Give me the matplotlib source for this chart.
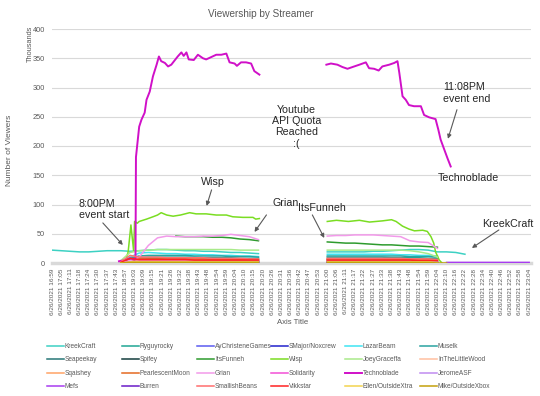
import numpy as np
import matplotlib
matplotlib.use('Agg')
import matplotlib.pyplot as plt

plt.rcParams['font.family'] = ['Liberation Sans', 'DejaVu Sans']

nan = np.nan

times = ['16:59', '17:05', '17:11', '17:18', '17:24', '17:30', '17:37', '17:43',
         '18:57', '19:03', '19:09', '19:15', '19:21', '19:26', '19:32', '19:38',
         '19:43', '19:48', '19:54', '19:59', '20:04', '20:10', '20:15', '20:20',
         '20:26', '20:31', '20:36', '20:42', '20:47', '20:53', '21:00', '21:06',
         '21:11', '21:17', '21:22', '21:27', '21:33', '21:38', '21:43', '21:48',
         '21:54', '21:59', '22:04', '22:10', '22:16', '22:22', '22:28', '22:34',
         '22:40', '22:46', '22:52', '22:58', '23:04']
tick_labels = ['6/26/2021 ' + t for t in times]

# sample positions (in tick-label units)
pre = [0, 1, 2, 3, 4, 5, 6, 7]
g1 = [7.5, 8.5, 9.5, 10.5, 11.5, 12.5, 13.5, 14.5, 15.5, 16.5, 17.5, 18.5, 19.5, 20.5, 21.5, 22.5]
g2 = [30, 31, 32, 33, 34, 35, 36, 37, 38, 39, 40, 41, 42, 43, 44, 45]
tail = [43, 44, 45, 46, 47, 48, 49, 50, 51, 52]

# viewers, thousands
kreekcraft_pre = [22, 21, 20, 19, 19, 20, 21, 21]
kreekcraft_1 = [21, 20, 21, 22, 23, 23, 22, 21, 21, 20, 20, 19, 18, 18, 17, 16]
kreekcraft_2 = [19, 19, 19, 19, 19, 20, 20, 21, 22, 23, 23, 22, 19, 19, 18, 15]
ryguyrocky_1 = [1, 6, 9, 10, 10, 10, 10, 10, 10, 9, 9, 9, 9, 8, 8, 8]
ryguyrocky_2 = [10, 10, 10, 10, 10, 10, 10, 9, 9, 9, 9, 8, 8, nan, nan, nan]
aychristene_1 = [0, 1, 2, 2, 2, 2, 2, 2, 2, 2, 2, 2, 2, 2, 2, 2]
aychristene_2 = [2, 2, 2, 2, 2, 2, 2, 2, 2, 2, 2, 2, 1, nan, nan, nan]
smajor_1 = [0, 1, 1, 1, 1, 1, 1, 1, 1, 1, 1, 1, 1, 1, 1, 1]
smajor_2 = [1, 1, 1, 1, 1, 1, 1, 1, 1, 1, 1, 1, 1, nan, nan, nan]
lazarbeam_1 = [3, 10, 17, 18, 17, 16, 16, 15, 15, 14, 14, 13, 13, 12, 12, 11]
lazarbeam_2 = [15, 15, 15, 15, 15, 15, 15, 15, 14, 14, 13, 13, 12, nan, nan, nan]
muselk_1 = [1, 8, 12, 13, 13, 13, 13, 13, 12, 12, 12, 12, 11, 11, 11, 10]
muselk_2 = [12, 12, 12, 12, 12, 12, 12, 12, 12, 11, 11, 11, 10, nan, nan, nan]
seapeekay_1 = [1, 4, 6, 7, 7, 7, 7, 7, 6, 6, 6, 6, 6, 6, 6, 5]
seapeekay_2 = [6, 6, 6, 6, 6, 6, 6, 6, 6, 6, 5, 5, 5, nan, nan, nan]
spifey_1 = [0, 2, 3, 3, 3, 3, 3, 3, 3, 3, 3, 3, 3, 3, 3, 3]
spifey_2 = [3, 3, 3, 3, 3, 3, 3, 3, 3, 3, 3, 3, 2, nan, nan, nan]
itsfunneh_1 = [nan, nan, nan, nan, nan, nan, 46, 45, 45, 45, 44, 44, 43, 41, 40, 38]
itsfunneh_2 = [36, 35, 34, 34, 33, 32, 31, 31, 30, 29, 29, 28, 27, nan, nan, nan]
joeygraceffa_1 = [4, 18, 21, 22, 23, 23, 23, 23, 23, 23, 23, 23, 23, 22, 22, 22]
joeygraceffa_2 = [22, 22, 22, 22, 22, 22, 22, 22, 22, 21, 19, 16, 10, nan, nan, nan]
inthelittlewood_1 = [1, 4, 5, 5, 5, 5, 5, 5, 5, 5, 5, 5, 5, 5, 4, 4]
inthelittlewood_2 = [5, 5, 5, 5, 5, 5, 5, 5, 5, 5, 5, 4, 4, nan, nan, nan]
sqaishey_1 = [0, 3, 4, 4, 4, 4, 4, 4, 4, 4, 4, 4, 4, 4, 4, 4]
sqaishey_2 = [4, 4, 4, 4, 4, 4, 4, 4, 4, 4, 4, 4, 3, nan, nan, nan]
pearlescent_1 = [1, 5, 7, 7, 7, 7, 7, 7, 7, 7, 6, 6, 6, 6, 6, 6]
pearlescent_2 = [7, 7, 7, 7, 7, 7, 7, 7, 7, 6, 6, 6, 5, nan, nan, nan]
grian_1 = [2, 4, 10, 30, 43, 46, 45, 45, 45, 46, 46, 47, 49, 47, 45, 40]
grian_2 = [46, 47, 47, 48, 48, 48, 47, 46, 45, 38, 36, 35, 25, nan, nan, nan]
solidarity_1 = [0, 2, 3, 3, 3, 3, 3, 3, 3, 3, 3, 3, 3, 3, 3, 3]
solidarity_2 = [3, 3, 3, 3, 3, 3, 3, 3, 3, 3, 3, 3, 2, nan, nan, nan]
jeromeasf_1 = [0, 1, 2, 2, 2, 2, 2, 2, 2, 2, 2, 2, 2, 2, 2, 2]
jeromeasf_2 = [2, 2, 2, 2, 2, 2, 2, 2, 2, 2, 2, 2, 1, nan, nan, nan]
mefs_1 = [0, 1, 1, 1, 1, 1, 1, 1, 1, 1, 1, 1, 1, 1, 1, 1]
mefs_2 = [1, 1, 1, 1, 1, 1, 1, 1, 1, 1, 1, 1, 1, nan, nan, nan]
mefs_tail = [1, 1, 1, 1, 1, 1, 1, 1, 1, 1]
burren_1 = [0, 1, 1, 1, 1, 1, 1, 1, 1, 1, 1, 1, 1, 1, 1, 1]
burren_2 = [1, 1, 1, 1, 1, 1, 1, 1, 1, 1, 1, 1, 1, nan, nan, nan]
smallishbeans_1 = [2, 13, 10, 10, 10, 9, 9, 9, 9, 9, 8, 8, 8, 8, 7, 7]
smallishbeans_2 = [8, 8, 8, 8, 8, 8, 8, 8, 8, 7, 7, 7, 6, nan, nan, nan]
vikkstar_1 = [1, 8, 6, 6, 6, 6, 6, 6, 5, 5, 5, 5, 5, 5, 5, 5]
vikkstar_2 = [5, 5, 5, 5, 5, 5, 5, 5, 5, 5, 4, 4, 4, nan, nan, nan]
ellen_1 = [0, 2, 2, 2, 2, 2, 2, 2, 2, 2, 2, 2, 2, 2, 2, 2]
ellen_2 = [2, 2, 2, 2, 2, 2, 2, 2, 2, 2, 2, 2, 1, nan, nan, nan]
mike_1 = [0, 1, 1, 1, 1, 1, 1, 1, 1, 1, 1, 1, 1, 1, 1, 1]
mike_2 = [1, 1, 1, 1, 1, 1, 1, 1, 1, 1, 1, 1, 0, 0, nan, nan]

techno_x1 = [7.3, 8.0, 8.5, 9.0, 9.1, 9.15, 9.5, 9.75, 10.1, 10.3, 10.65, 11.0, 11.4, 11.65,
             11.9, 12.3, 12.65, 13.0, 13.7, 14.1, 14.35, 14.65, 14.9, 15.45, 15.9, 16.45,
             16.8, 17.35, 17.9, 18.45, 19.0, 19.35, 19.9, 20.15, 20.6, 21.15, 21.7, 22.05, 22.6]
techno_1 = [3, 5, 8, 6, 8, 181, 233, 245, 257, 279, 293, 319, 339, 353,
            345, 342, 336, 339, 353, 360, 354, 360, 348, 347, 356, 350,
            348, 352, 356, 356, 358, 343, 341, 337, 343, 343, 341, 328, 322]
techno_x2 = [29.9, 30.4, 31.1, 31.65, 32.2, 32.75, 33.5, 34.2, 34.55, 35.1, 35.6, 36.0, 36.75,
             37.3, 37.65, 37.85, 38.2, 38.55, 38.9, 39.45, 40.2, 40.55, 41.1, 41.8, 42.1,
             42.35, 42.7, 43.1, 43.45]
techno_2 = [339, 341, 339, 335, 332, 335, 339, 343, 333, 332, 329, 336, 339,
            342, 345, 325, 285, 279, 270, 268, 268, 253, 249, 246, 228,
            211, 196, 179, 165]

wisp_x1 = [7.5, 8.0, 8.3, 8.6, 8.9, 9.0, 9.3, 9.5, 10.3, 11.0, 11.5, 11.9, 12.5, 13.2,
           14.0, 15.0, 15.7, 16.8, 17.9, 19.0, 19.7, 20.8, 21.9, 22.2, 22.6]
wisp_1 = [4, 3, 19, 65, 20, 71, 68, 71, 75, 79, 82, 86, 82, 80,
          82, 86, 84, 84, 82, 82, 79, 78, 78, 75, 76]
wisp_x2 = [30.0, 31.0, 32.3, 33.5, 34.6, 36.0, 37.0, 37.5, 38.2, 38.9, 39.5, 40.4,
           40.9, 41.3, 41.6, 41.8, 42.2, 42.5]
wisp_2 = [71, 73, 71, 73, 70, 72, 74, 71, 63, 58, 55, 56,
          54, 45, 34, 19, 5, 0]


def join(*parts):
    xs, ys = [], []
    for i in range(0, len(parts), 2):
        if xs:
            xs.append(nan)
            ys.append(nan)
        xs += list(parts[i])
        ys += list(parts[i + 1])
    return xs, ys


series = [
    ('KreekCraft', '#3DD1C3', join(pre + g1, kreekcraft_pre + kreekcraft_1, g2, kreekcraft_2)),
    ('Ryguyrocky', '#1FA593', join(g1, ryguyrocky_1, g2, ryguyrocky_2)),
    ('AyChristeneGames', '#5B5BF0', join(g1, aychristene_1, g2, aychristene_2)),
    ('SMajor/Noxcrew', '#2222CC', join(g1, smajor_1, g2, smajor_2)),
    ('LazarBeam', '#3FE4F2', join(g1, lazarbeam_1, g2, lazarbeam_2)),
    ('Muselk', '#2AA3A0', join(g1, muselk_1, g2, muselk_2)),
    ('Seapeekay', '#277676', join(g1, seapeekay_1, g2, seapeekay_2)),
    ('Spifey', '#133D3D', join(g1, spifey_1, g2, spifey_2)),
    ('ItsFunneh', '#2E9B2E', join(g1, itsfunneh_1, g2, itsfunneh_2)),
    ('Wisp', '#7ADD22', join(wisp_x1, wisp_1, wisp_x2, wisp_2)),
    ('JoeyGraceffa', '#A9EA8A', join(g1, joeygraceffa_1, g2, joeygraceffa_2)),
    ('InTheLittleWood', '#FFC0A0', join(g1, inthelittlewood_1, g2, inthelittlewood_2)),
    ('Sqaishey', '#FFA366', join(g1, sqaishey_1, g2, sqaishey_2)),
    ('PearlescentMoon', '#E46A22', join(g1, pearlescent_1, g2, pearlescent_2)),
    ('Grian', '#F29AEA', join(g1, grian_1, g2, grian_2)),
    ('Solidarity', '#F24FD6', join(g1, solidarity_1, g2, solidarity_2)),
    ('Technoblade', '#D010C8', join(techno_x1, techno_1, techno_x2, techno_2)),
    ('JeromeASF', '#C08CF0', join(g1, jeromeasf_1, g2, jeromeasf_2)),
    ('Mefs', '#A83CF0', join(g1, mefs_1, g2, mefs_2, tail, mefs_tail)),
    ('Burren', '#6A1BC7', join(g1, burren_1, g2, burren_2)),
    ('SmallishBeans', '#FF6E6E', join(g1, smallishbeans_1, g2, smallishbeans_2)),
    ('Vikkstar', '#FF2222', join(g1, vikkstar_1, g2, vikkstar_2)),
    ('Ellen/OutsideXtra', '#F2D34E', join(g1, ellen_1, g2, ellen_2)),
    ('Mike/OutsideXbox', '#C3A10C', join(g1, mike_1, g2, mike_2)),
]

W, H = 540, 396
fig = plt.figure(figsize=(W / 100, H / 100), dpi=100)
ax = fig.add_axes([52 / W, 1 - 263 / H, (531 - 52) / W, (263 - 29) / H])

handles = []
for name, color, (xs, ys) in series:
    lw = 1.4 if name == 'Technoblade' else 1.1
    h, = ax.plot(xs, ys, color=color, lw=lw, label=name, zorder=3)
    handles.append(h)

ax.set_xlim(0, 52.2)
ax.set_ylim(0, 400)
ax.set_yticks(range(0, 401, 50))
ax.set_xticks(range(len(tick_labels)))
ax.set_xticklabels(tick_labels, rotation=90, fontsize=4.6, color='#595959')
ax.tick_params(axis='y', labelsize=5.3, labelcolor='#595959', length=0, pad=5)
ax.tick_params(axis='x', length=0, pad=4)
ax.grid(axis='y', color='#D9D9D9', lw=0.8)
ax.set_axisbelow(True)
for s in ['top', 'right', 'left']:
    ax.spines[s].set_visible(False)
ax.spines['bottom'].set_color('#D9D9D9')
ax.spines['bottom'].set_linewidth(2.5)
ax.spines['bottom'].set_zorder(2)

# annotations
txt = dict(fontsize=7.7, color='#262626', clip_on=False)
ax.text(2.93, 91.6, '8:00PM\nevent start', ha='left', va='center', linespacing=1.2, **txt)
ax.text(17.5, 138.7, 'Wisp', ha='center', va='center', **txt)
ax.text(25.5, 101.9, 'Grian', ha='center', va='center', **txt)
ax.text(29.46, 94.2, 'ItsFunneh', ha='center', va='center', **txt)
ax.text(49.67, 66.8, 'KreekCraft', ha='center', va='center', **txt)
ax.text(26.63, 232.9, 'Youtube\nAPI Quota\nReached\n:(', ha='center', va='center',
        multialignment='center', linespacing=1.15, **txt)
ax.text(42.6, 290.2, '11:08PM\nevent end', ha='left', va='center', linespacing=1.2, **txt)
ax.text(45.33, 145.5, 'Technoblade', ha='center', va='center', **txt)

arrows = [((5.54, 68.5), (7.72, 30.8)),
          ((17.39, 125), (16.85, 97.6)),
          ((23.37, 82.2), (22.07, 53.1)),
          ((28.37, 82.2), (29.67, 42.8)),
          ((48.7, 56.5), (45.76, 25.7)),
          ((44.13, 262), (43.15, 212.3))]
for start, end in arrows:
    ax.annotate('', xy=end, xytext=start,
                arrowprops=dict(arrowstyle='-|>', color='#595959', lw=0.8,
                                mutation_scale=6, shrinkA=0, shrinkB=0))

fig.text(260.5 / W, 1 - 14 / H, 'Viewership by Streamer', ha='center', va='center',
         fontsize=7.2, color='#595959')
fig.text(10 / W, 1 - 150 / H, 'Number of Viewers', rotation=90, ha='center', va='center',
         fontsize=6.0, color='#595959')
fig.text(30 / W, 1 - 44 / H, 'Thousands', rotation=90, ha='center', va='center',
         fontsize=5.3, color='#595959')
fig.text(292.5 / W, 1 - 323 / H, 'Axis Title', ha='center', va='center',
         fontsize=5.6, color='#595959')

# legend: 6 columns, filled row by row
col_x = [47, 122, 197, 271, 345, 420]
for c in range(6):
    hs = [handles[r * 6 + c] for r in range(4)]
    fig.legend(hs, [h.get_label() for h in hs], loc='upper left',
               bbox_to_anchor=(col_x[c] / W, 1 - 343 / H), frameon=False,
               fontsize=4.7, labelcolor='#595959', handlelength=2.6,
               handletextpad=0.15, borderpad=0, borderaxespad=0, labelspacing=0.98)

fig.savefig('out.png', dpi=100)
